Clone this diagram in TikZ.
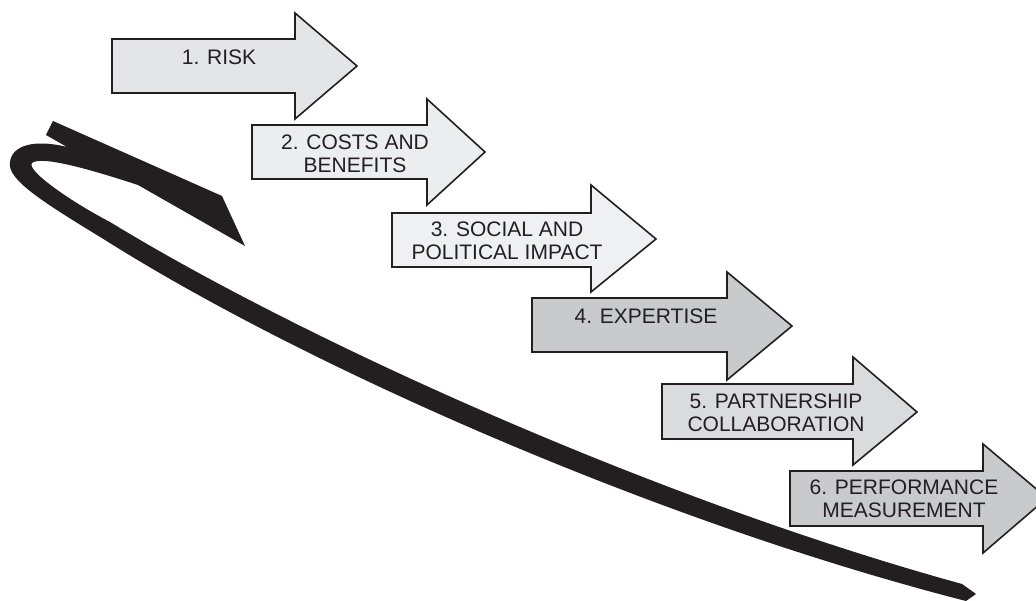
\documentclass[tikz,border=0pt]{standalone}
\usepackage{fontspec}
\setmainfont{Liberation Sans}
\usetikzlibrary{positioning}
\definecolor{stepink}{RGB}{35,31,32}
\definecolor{steplightA}{RGB}{228,229,230}
\definecolor{steplightB}{RGB}{236,237,238}
\definecolor{steplightC}{RGB}{239,240,241}
\definecolor{stepmidA}{RGB}{201,202,204}
\definecolor{stepmidB}{RGB}{218,219,221}
\tikzset{
  steparrow/.style={draw=stepink, line width=1.6pt, line join=miter},
  steplabel/.style={align=center, text=stepink, inner sep=0pt,
    font=\fontsize{21}{23}\selectfont}
}

\begin{document}
\begin{tikzpicture}[x=1pt,y=-1pt]
  \clip (0,0) rectangle (1036,601);
  % Staircase of arrows
  \draw[steparrow,fill=steplightA] (112,39) -- (295,39) -- (295,13) -- (357,66) -- (295,119) -- (295,93) -- (112,93) -- cycle;
  \node[steplabel] (risk) at (219,57) {1. RISK};
  \draw[steparrow,fill=steplightB] (252,125) -- (427,125) -- (427,99) -- (485,152) -- (427,205) -- (427,179) -- (252,179) -- cycle;
  \node[steplabel] (costs) at (355,154) {2. COSTS AND\\BENEFITS};
  \draw[steparrow,fill=steplightC] (392,213) -- (591,213) -- (591,185) -- (656,239) -- (591,292) -- (591,267) -- (392,267) -- cycle;
  \node[steplabel] (social) at (507,241) {3. SOCIAL AND\\POLITICAL IMPACT};
  \draw[steparrow,fill=stepmidA] (532,298) -- (727,298) -- (727,272) -- (792,326) -- (727,380) -- (727,352) -- (532,352) -- cycle;
  \node[steplabel] (expertise) at (646,316) {4. EXPERTISE};
  \draw[steparrow,fill=stepmidB] (662,384) -- (853,384) -- (853,357) -- (917,412) -- (853,465) -- (853,439) -- (662,439) -- cycle;
  \node[steplabel] (partner) at (776,413) {5. PARTNERSHIP\\COLLABORATION};
  \draw[steparrow,fill=stepmidA] (790,471) -- (983,471) -- (983,444) -- (1047,498) -- (983,553) -- (983,526) -- (790,526) -- cycle;
  \node[steplabel] (perform) at (904,499) {6. PERFORMANCE\\MEASUREMENT};
  % Black swoosh: blade, loop and long tail
  \fill[stepink] (53,121) -- (222,196) -- (245,246) -- (138,185)
    .. controls (95,171) and (42,155) .. (32,163)
    .. controls (26,170) and (68,200) .. (110,222)
    .. controls (300,338) and (650,498) .. (962,584)
    -- (976,594) -- (966,601)
    .. controls (650,520) and (300,363) .. (105,240)
    .. controls (48,205) and (6,180) .. (10,162)
    .. controls (12,145) and (35,139) .. (67,147)
    -- (46,135) -- cycle;
\end{tikzpicture}
\end{document}
